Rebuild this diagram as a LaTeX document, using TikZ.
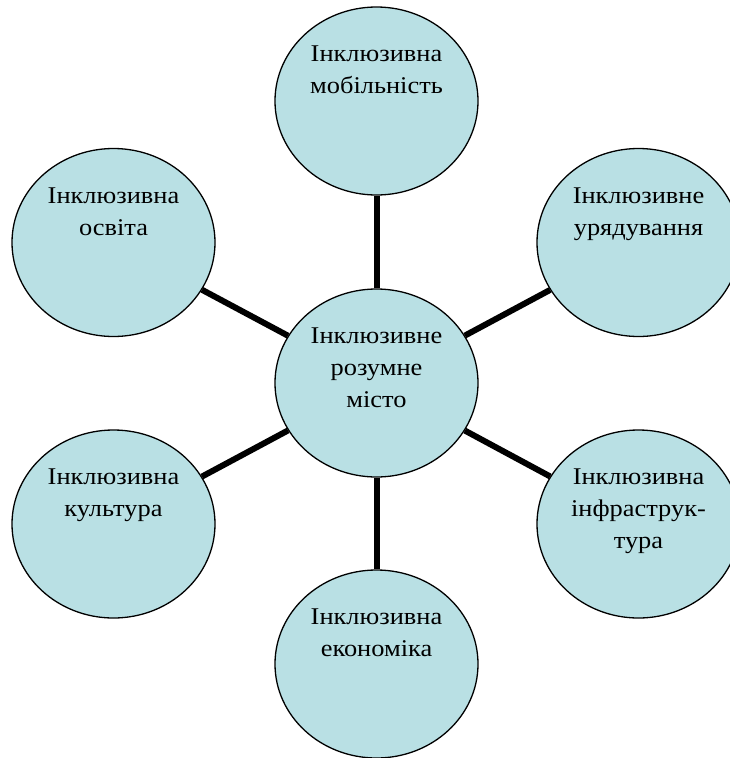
\documentclass[tikz,border=0pt]{standalone}
\usepackage{fontspec}
\setmainfont{Liberation Serif}
\definecolor{bubblefill}{RGB}{185, 224, 228}
\usetikzlibrary{shapes.geometric}
\newcommand{\bubbletext}[1]{\scalebox{1.1}[1]{\begin{minipage}[c][110pt][t]{130pt}\centering #1\end{minipage}}}
\tikzset{
    bubble/.style={ellipse, draw, line width=1.3pt, fill=bubblefill,
        minimum width=203pt, minimum height=188pt, inner sep=0pt,
        font=\fontsize{24}{32}\selectfont},
    spoke/.style={line width=6pt},
}

\begin{document}
\begin{tikzpicture}[x=1pt, y=-1pt]
        \useasboundingbox (0, 0) rectangle (729, 758);
        \node[bubble] (centre) at (376.5, 383)
            {\bubbletext{Інклюзивне\\розумне\\місто}};
        \node[bubble] (mobility) at (376.5, 101)
            {\bubbletext{Інклюзивна\\мобільність}};
        \node[bubble] (governance) at (638.5, 242.5)
            {\bubbletext{Інклюзивне\\урядування}};
        \node[bubble] (infrastructure) at (638.5, 524)
            {\bubbletext{Інклюзивна\\інфраструк-\\тура}};
        \node[bubble] (economy) at (376.5, 664)
            {\bubbletext{Інклюзивна\\економіка}};
        \node[bubble] (culture) at (113.5, 524)
            {\bubbletext{Інклюзивна\\культура}};
        \node[bubble] (education) at (113.5, 242.5)
            {\bubbletext{Інклюзивна\\освіта}};
        \foreach \n in {mobility, governance, infrastructure, economy,
            culture, education}{
            \draw[spoke] (centre) -- (\n);
        }
    \end{tikzpicture}
\end{document}
